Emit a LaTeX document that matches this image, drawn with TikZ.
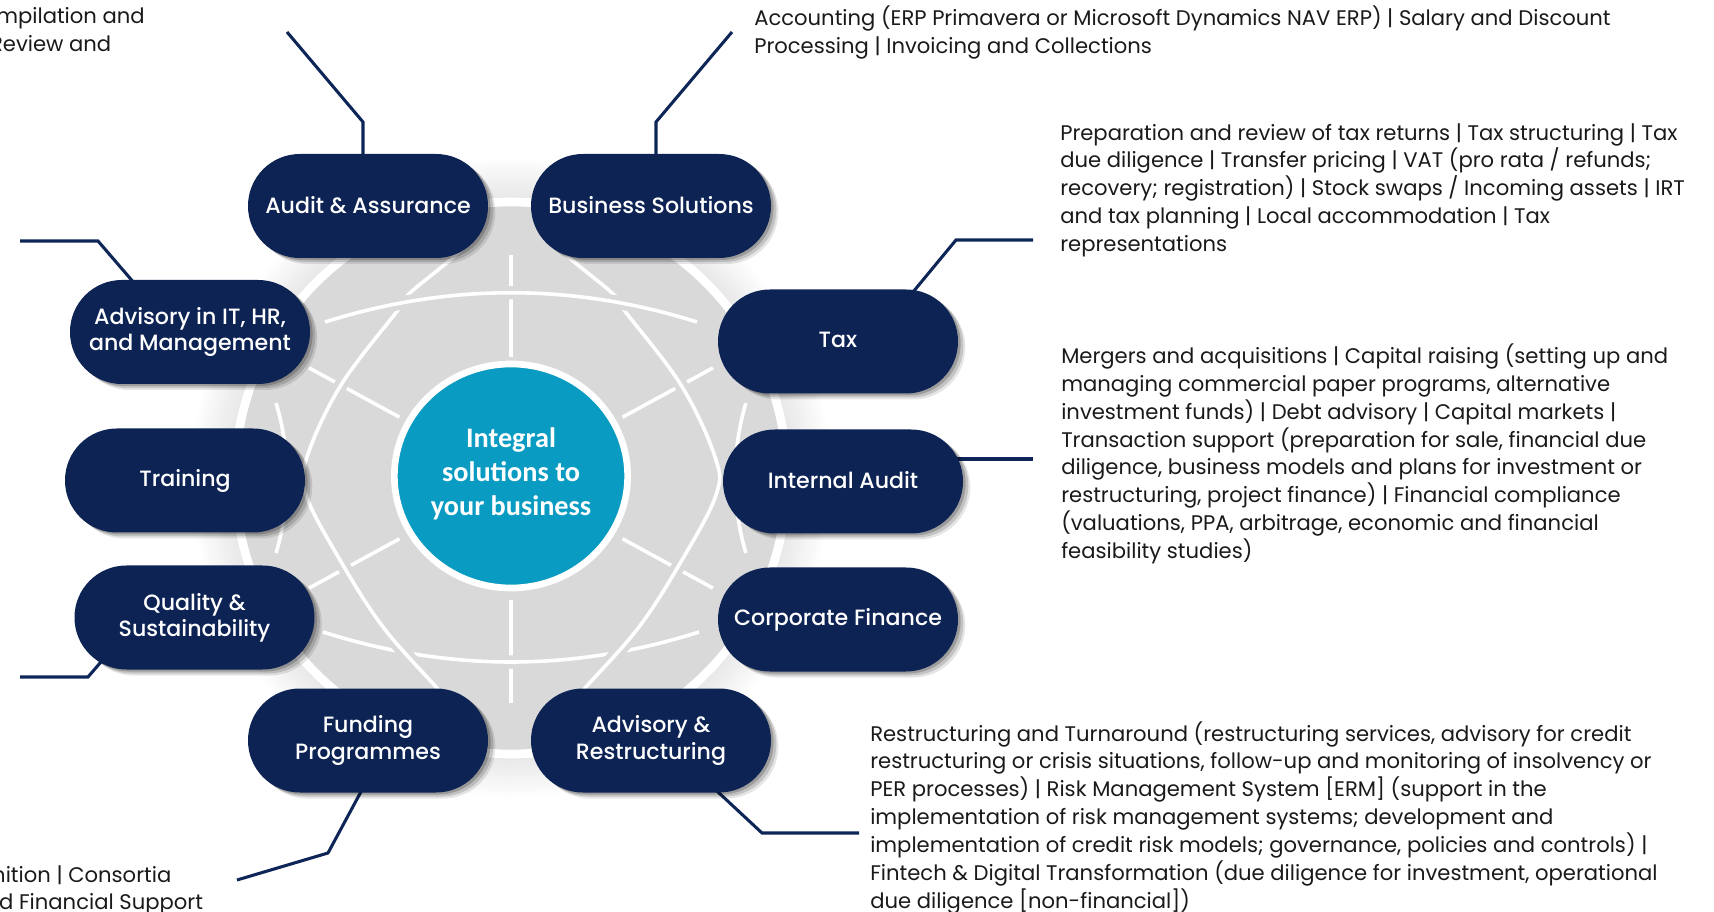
\documentclass[tikz,border=0pt]{standalone}
\usepackage{fontspec}
\setmainfont{Poppins}
\newfontfamily\popmedium{Poppins Medium}
\newfontfamily\carlfont{Carlito}
\usetikzlibrary{shadows,calc,shapes.geometric}
\definecolor{navy}{HTML}{0C2354}
\definecolor{navyline}{HTML}{0D2657}
\definecolor{hubteal}{HTML}{0A9BC2}
\definecolor{globegray}{HTML}{D9D9D9}
\definecolor{glowgray}{HTML}{E4E4E4}
\definecolor{bodytext}{HTML}{1A1A1A}
\newcommand\sidefnt{\fontsize{15.85pt}{20.9pt}\selectfont}
\newcommand\pillfnt{\popmedium\fontsize{16.6pt}{19.7pt}\selectfont}
\newcommand\hubfnt{\carlfont\bfseries\fontsize{21.2pt}{25.4pt}\selectfont}
\newcommand\lift[1]{\raisebox{2pt}{#1}}
\begin{document}
\begin{tikzpicture}[x=0.75pt,y=-0.75pt,
  pill/.style={shape=rectangle, rounded corners=38.9pt, minimum width=180pt,
    minimum height=78pt, fill=navy, text=white, font=\pillfnt, align=center,
    inner sep=0pt,
    drop shadow={shadow xshift=5.5pt, shadow yshift=-4.5pt, opacity=0.10, fill=black},
    drop shadow={shadow xshift=4pt, shadow yshift=-3pt, opacity=0.15, fill=black},
    drop shadow={shadow xshift=2pt, shadow yshift=-1.5pt, opacity=0.2, fill=black}},
  conn/.style={draw=navyline, line width=2.3pt},
  gline/.style={draw=white, line width=2.7pt},
  halo/.style={preaction={draw=globegray, line width=10pt}},
  sidetext/.style={font=\sidefnt, align=left, inner sep=0pt, text=bodytext}]
\useasboundingbox (0,0) rectangle (1714,912);
\clip (0,0) rectangle (1714,912);
\coordinate (c) at (511,478);
% glow
\foreach \i [evaluate=\i as \pct using 100*\i/24, evaluate=\i as \rr using 322-2*\i] in {0,...,24}
  {\fill[glowgray!\pct!white] (c) circle (\rr);}
\fill[globegray] (c) circle (272);
\draw[white, line width=6.5pt] (c) circle (276);
% vertical lines
\draw[gline] (511,255) -- (511,357);
\draw[gline] (511,600) -- (511,703);
% rays
\foreach \a in {28.6,151.4,208.6,331.4}
  \draw[gline] ($(c)+(\a:127)$) -- ($(c)+(\a:230)$);
% outer arcs
\draw[gline] (23,478) ++(-16.5:264) arc[start angle=-16.5, end angle=16.5, radius=264];
\draw[gline] (999,478) ++(163.5:264) arc[start angle=163.5, end angle=196.5, radius=264];
% bottom arc
\draw[gline, halo] (323,632) .. controls (449,672) and (573,672) .. (699,632);
% meridians
\draw[gline, halo] plot[smooth, tension=0.6] coordinates {(472,238) (450,260) (410,293) (398,310) (341,385) (307,457) (306,495) (340,560) (383,627) (437,688) (447,700)};
\begin{scope}[shift={(1022,0)}, xscale=-1]
\draw[gline, halo] plot[smooth, tension=0.6] coordinates {(472,238) (450,260) (410,293) (398,310) (341,385) (307,457) (306,495) (340,560) (383,627) (437,688) (447,700)};
\end{scope}
% top arc
\draw[gline, halo] (325,322) .. controls (449,283) and (573,283) .. (697,322);

% hub
\node[ellipse, fill=hubteal, draw=white, line width=5pt, minimum width=175pt,
  minimum height=168pt, inner sep=0pt] (hub) at (511,476) {};
\node[text=white, font=\hubfnt, align=center, inner sep=0pt] (hubtext) at (511,473.5) {Integral\\solutions to\\your business};

% pill positions
\coordinate (paud) at (368,206);
\coordinate (pbus) at (651,206);
\coordinate (padv) at (190,332);
\coordinate (ptax) at (838,341.5);
\coordinate (ptrn) at (185,480.5);
\coordinate (pia)  at (843,481.5);
\coordinate (pqs)  at (194.5,617.5);
\coordinate (pcf)  at (838,619.5);
\coordinate (pfun) at (368,740.5);
\coordinate (padr) at (651,740.5);

% connector bends
\coordinate (k1) at (363,122);
\coordinate (k2) at (287,32);
\coordinate (k3) at (656,122);
\coordinate (k4) at (732,32);
\coordinate (k5) at (956,240);
\coordinate (k6) at (1033,240);
\coordinate (k7) at (1033,459);
\coordinate (k8) at (98,241);
\coordinate (k9) at (20,241);
\coordinate (k10) at (88,677);
\coordinate (k11) at (20,677);
\coordinate (k12) at (328,853);
\coordinate (k13) at (237,880);
\coordinate (k14) at (762,833);
\coordinate (k15) at (859,833);

\draw[conn] (k1 |- paud) -- (k1) -- (k2);
\draw[conn] (k3 |- pbus) -- (k3) -- (k4);
\draw[conn] ($(ptax)+(68,-41)$) -- (k5) -- (k6);
\draw[conn] (pia |- k7) -- (k7);
\draw[conn] ($(padv)+(-49,-41)$) -- (k8) -- (k9);
\draw[conn] ($(pqs)+(-88,38)$) -- (k10) -- (k11);
\draw[conn] ($(pfun)+(-1,40)$) -- (k12) -- (k13);
\draw[conn] ($(padr)+(60,45)$) -- (k14) -- (k15);

% pills
\node[pill] (aud) at (paud) {\lift{Audit \& Assurance}};
\node[pill] (bus) at (pbus) {\lift{Business Solutions}};
\node[pill] (adv) at (padv) {Advisory in IT, HR,\\and Management};
\node[pill] (tax) at (ptax) {\lift{Tax}};
\node[pill] (trn) at (ptrn) {Training};
\node[pill] (ia)  at (pia)  {\lift{Internal Audit}};
\node[pill] (qs)  at (pqs)  {Quality \&\\Sustainability};
\node[pill] (cf)  at (pcf)  {Corporate Finance};
\node[pill] (fun) at (pfun) {Funding\\Programmes};
\node[pill] (adr) at (padr) {Advisory \&\\Restructuring};

% texts
\node[sidetext, anchor=base east] (t1a) at (145,24) {mpilation and};
\node[sidetext, anchor=base east] (t1b) at (111.5,51.5) {Review and};
\node[sidetext, anchor=north west] (t2) at (754,6) {Accounting (ERP Primavera or Microsoft Dynamics NAV ERP) | Salary and Discount\\Processing | Invoicing and Collections};
\node[sidetext, anchor=north west] (t3) at (1060,123) {Preparation and review of tax returns | Tax structuring | Tax\\due diligence | Transfer pricing | VAT (pro rata / refunds;\\recovery; registration) | Stock swaps / Incoming assets | IRT\\and tax planning | Local accommodation | Tax\\representations};
\node[sidetext, anchor=north west] (t4) at (1061,343.5) {Mergers and acquisitions | Capital raising (setting up and\\managing commercial paper programs, alternative\\investment funds) | Debt advisory | Capital markets |\\Transaction support (preparation for sale, financial due\\diligence, business models and plans for investment or\\restructuring, project finance) | Financial compliance\\(valuations, PPA, arbitrage, economic and financial\\feasibility studies)};
\node[sidetext, anchor=north west] (t5) at (870,721) {Restructuring and Turnaround (restructuring services, advisory for credit\\restructuring or crisis situations, follow-up and monitoring of insolvency or\\PER processes) | Risk Management System [ERM] (support in the\\implementation of risk management systems; development and\\implementation of credit risk models; governance, policies and controls) |\\Fintech \& Digital Transformation (due diligence for investment, operational\\due diligence [non-financial])};
\node[sidetext, anchor=base east] (t6a) at (171.6,882) {nition | Consortia};
\node[sidetext, anchor=base east] (t6b) at (203.3,909.5) {d Financial Support};
\end{tikzpicture}
\end{document}
